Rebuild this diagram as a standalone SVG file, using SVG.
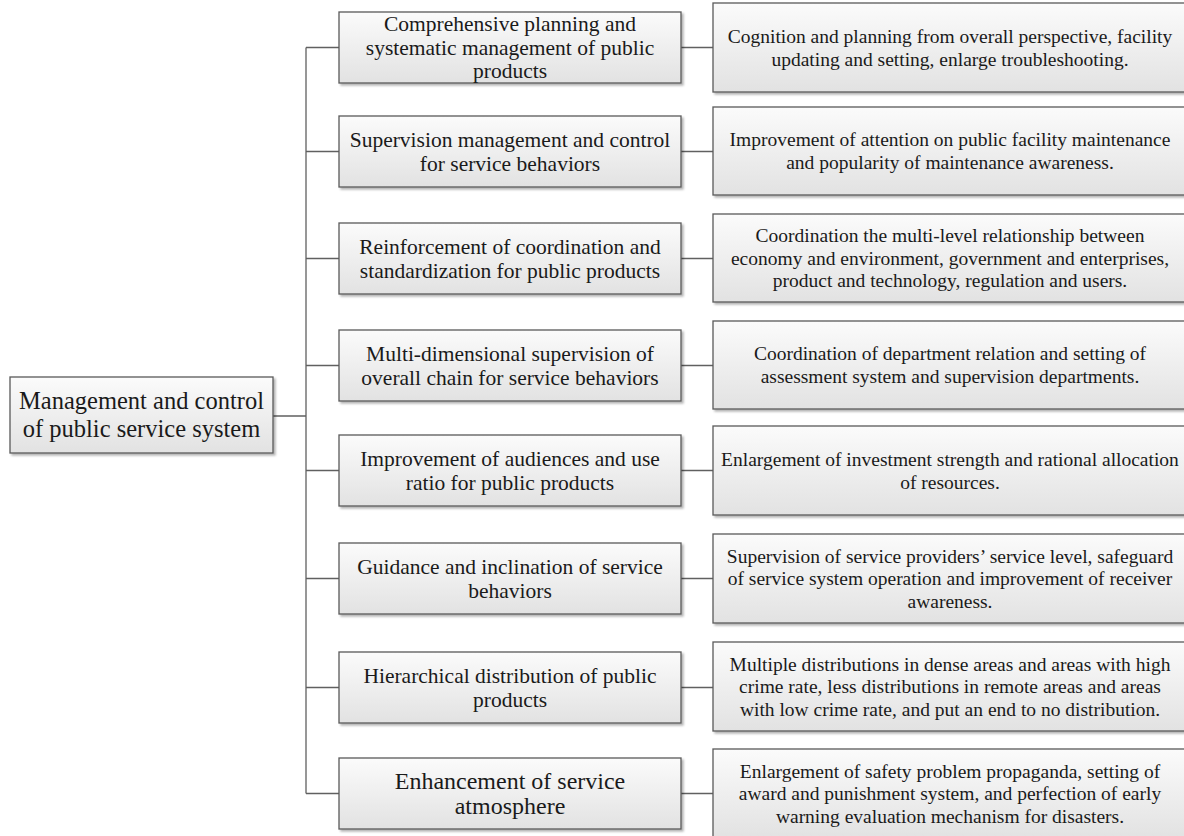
<svg xmlns="http://www.w3.org/2000/svg" width="1184" height="836" viewBox="0 0 1184 836">
<defs>
<linearGradient id="g" x1="0" y1="0" x2="0" y2="1">
<stop offset="0" stop-color="#fbfbfb"/>
<stop offset="1" stop-color="#e2e2e2"/>
</linearGradient>
<filter id="sh" x="-5%" y="-10%" width="115%" height="130%">
<feDropShadow dx="2" dy="2" stdDeviation="1.3" flood-color="#000" flood-opacity="0.3"/>
</filter>
<style>
.box{fill:url(#g);stroke:#595959;stroke-width:1.3;filter:url(#sh)}
text{font-family:"Liberation Serif","Times New Roman",serif;fill:#1a1a1a;text-anchor:middle}
.m{font-size:21.5px}
.m8{font-size:24px}
.r{font-size:19.5px}
.root{font-size:24.5px}
.c{stroke:#606060;stroke-width:1.3;fill:none}
</style>
</defs>
<rect width="1184" height="836" fill="#fff"/>
<g id="connectors" class="c">
<path d="M273 416H306M306 47.5V793.5"/>
<path d="M306 47.5H339M306 151.5H339M306 258.5H339M306 365.5H339M306 470.5H339M306 578.5H339M306 687.5H339M306 793.5H339"/>
<path d="M681 47.5H713M681 151.5H713M681 258.5H713M681 365.5H713M681 470.5H713M681 578.5H713M681 687.5H713M681 793.5H713"/>
</g>
<g id="root">
<rect class="box" x="10" y="377" width="263" height="76"/>
<text class="root" x="141.5" y="409">Management and control</text>
<text class="root" x="141.5" y="437">of public service system</text>
</g>
<g id="m1">
<rect class="box" x="339" y="12" width="342" height="71"/>
<text class="m" x="510" y="31">Comprehensive planning and</text>
<text class="m" x="510" y="54.5">systematic management of public</text>
<text class="m" x="510" y="78">products</text>
</g>
<g id="m2">
<rect class="box" x="339" y="116" width="342" height="71"/>
<text class="m" x="510" y="146.5">Supervision management and control</text>
<text class="m" x="510" y="170.5">for service behaviors</text>
</g>
<g id="m3">
<rect class="box" x="339" y="223" width="342" height="71"/>
<text class="m" x="510" y="253.5">Reinforcement of coordination and</text>
<text class="m" x="510" y="277.5">standardization for public products</text>
</g>
<g id="m4">
<rect class="box" x="339" y="330" width="342" height="71"/>
<text class="m" x="510" y="360.5">Multi-dimensional supervision of</text>
<text class="m" x="510" y="384.5">overall chain for service behaviors</text>
</g>
<g id="m5">
<rect class="box" x="339" y="435" width="342" height="71"/>
<text class="m" x="510" y="465.5">Improvement of audiences and use</text>
<text class="m" x="510" y="489.5">ratio for public products</text>
</g>
<g id="m6">
<rect class="box" x="339" y="543" width="342" height="71"/>
<text class="m" x="510" y="573.5">Guidance and inclination of service</text>
<text class="m" x="510" y="597.5">behaviors</text>
</g>
<g id="m7">
<rect class="box" x="339" y="652" width="342" height="71"/>
<text class="m" x="510" y="682.5">Hierarchical distribution of public</text>
<text class="m" x="510" y="706.5">products</text>
</g>
<g id="m8">
<rect class="box" x="339" y="758" width="342" height="71"/>
<text class="m8" x="510" y="788.5">Enhancement of service</text>
<text class="m8" x="510" y="814">atmosphere</text>
</g>
<g id="r1">
<rect class="box" x="713" y="3" width="476" height="89"/>
<text class="r" x="950" y="42.5">Cognition and planning from overall perspective, facility</text>
<text class="r" x="950" y="65.5">updating and setting, enlarge troubleshooting.</text>
</g>
<g id="r2">
<rect class="box" x="713" y="107" width="476" height="88"/>
<text class="r" x="950" y="146">Improvement of attention on public facility maintenance</text>
<text class="r" x="950" y="169">and popularity of maintenance awareness.</text>
</g>
<g id="r3">
<rect class="box" x="713" y="214" width="476" height="88"/>
<text class="r" x="950" y="242">Coordination the multi-level relationship between</text>
<text class="r" x="950" y="264.5">economy and environment, government and enterprises,</text>
<text class="r" x="950" y="287">product and technology, regulation and users.</text>
</g>
<g id="r4">
<rect class="box" x="713" y="321" width="476" height="88"/>
<text class="r" x="950" y="360">Coordination of department relation and setting of</text>
<text class="r" x="950" y="383">assessment system and supervision departments.</text>
</g>
<g id="r5">
<rect class="box" x="713" y="426" width="476" height="89"/>
<text class="r" x="950" y="465.5">Enlargement of investment strength and rational allocation</text>
<text class="r" x="950" y="488.5">of resources.</text>
</g>
<g id="r6">
<rect class="box" x="713" y="534" width="476" height="89"/>
<text class="r" x="950" y="562.5">Supervision of service providers’ service level, safeguard</text>
<text class="r" x="950" y="585">of service system operation and improvement of receiver</text>
<text class="r" x="950" y="607.5">awareness.</text>
</g>
<g id="r7">
<rect class="box" x="713" y="642" width="476" height="89"/>
<text class="r" x="950" y="670.5">Multiple distributions in dense areas and areas with high</text>
<text class="r" x="950" y="693">crime rate, less distributions in remote areas and areas</text>
<text class="r" x="950" y="715.5">with low crime rate, and put an end to no distribution.</text>
</g>
<g id="r8">
<rect class="box" x="713" y="749" width="476" height="89"/>
<text class="r" x="950" y="777.5">Enlargement of safety problem propaganda, setting of</text>
<text class="r" x="950" y="800">award and punishment system, and perfection of early</text>
<text class="r" x="950" y="822.5">warning evaluation mechanism for disasters.</text>
</g>
</svg>
